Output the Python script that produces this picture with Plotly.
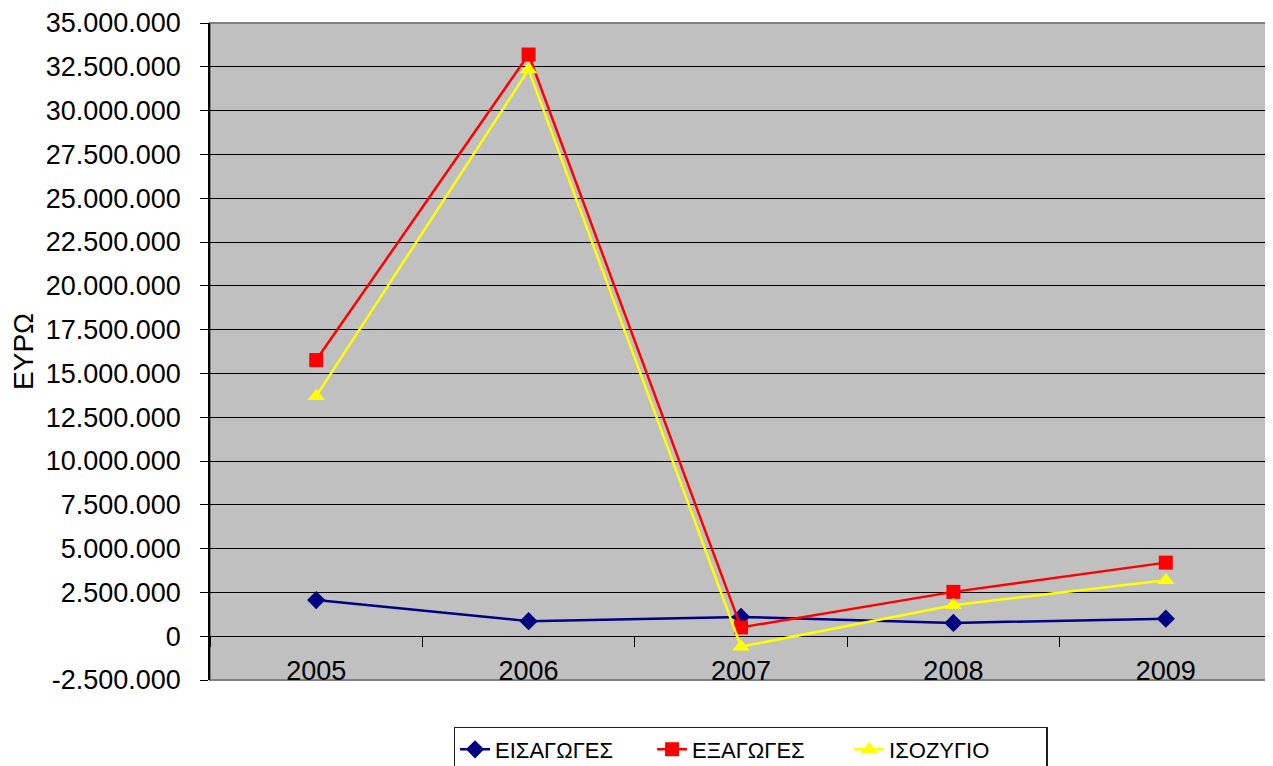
import plotly.graph_objects as go

years = ["2005", "2006", "2007", "2008", "2009"]
imports_eur = [2060000, 860000, 1100000, 760000, 1000000]
exports_eur = [15760000, 33200000, 500000, 2530000, 4200000]
balance_eur = [13700000, 32340000, -600000, 1770000, 3200000]

series_names = ["ΕΙΣΑΓΩΓΕΣ", "ΕΞΑΓΩΓΕΣ", "ΙΣΟΖΥΓΙΟ"]
y_tick_vals = [-2500000, 0, 2500000, 5000000, 7500000, 10000000, 12500000, 15000000,
               17500000, 20000000, 22500000, 25000000, 27500000, 30000000, 32500000, 35000000]
y_tick_text = ["-2.500.000", "0", "2.500.000", "5.000.000", "7.500.000", "10.000.000",
               "12.500.000", "15.000.000", "17.500.000", "20.000.000", "22.500.000",
               "25.000.000", "27.500.000", "30.000.000", "32.500.000", "35.000.000"]
y_title = "ΕΥΡΩ"

FONT = "Liberation Sans, Arial, sans-serif"

fig = go.Figure()
fig.add_trace(go.Scatter(x=years, y=imports_eur, name=series_names[0], mode="lines+markers",
                         line=dict(color="#000080", width=2.5),
                         marker=dict(symbol="diamond", size=14, color="#000080")))
fig.add_trace(go.Scatter(x=years, y=exports_eur, name=series_names[1], mode="lines+markers",
                         line=dict(color="#FF0000", width=2.5),
                         marker=dict(symbol="square", size=14, color="#FF0000")))
fig.add_trace(go.Scatter(x=years, y=balance_eur, name=series_names[2], mode="lines+markers",
                         line=dict(color="#FFFF00", width=2.5),
                         marker=dict(symbol="triangle-up", size=15, color="#FFFF00")))

ymin, ymax = -2500000, 35000000
# page body has an 8px margin, so figure coords = screen coords - 8
fig.update_layout(
    width=1273, height=766,
    margin=dict(l=202, r=9, t=15, b=94, autoexpand=False),
    paper_bgcolor="white",
    plot_bgcolor="#C0C0C0",
    font=dict(family=FONT, color="black"),
    showlegend=True,
    legend=dict(orientation="h", x=0.509, xanchor="center", y=-0.0715, yanchor="top",
                bgcolor="white", bordercolor="#202020", borderwidth=1.5,
                font=dict(size=22, family=FONT), entrywidth=152,
                traceorder="normal"),
    xaxis=dict(type="category", range=[-0.5, 4.5], anchor="free",
               position=(0 - ymin) / (ymax - ymin),
               showgrid=False, zeroline=False, showline=False,
               ticks="outside", ticklen=10, tickwidth=1.3, tickcolor="black",
               tickson="boundaries", ticklabelstandoff=16,
               tickfont=dict(size=27, family=FONT)),
    yaxis=dict(range=[ymin, ymax], tickvals=y_tick_vals, ticktext=y_tick_text,
               showgrid=True, gridcolor="black", gridwidth=1.3,
               zeroline=False, showline=True, linecolor="black", linewidth=1.5,
               ticks="outside", ticklen=8, tickwidth=1.3, tickcolor="black",
               ticklabelstandoff=14,
               tickfont=dict(size=27, family=FONT),
               title=dict(text=y_title, font=dict(size=28, family=FONT), standoff=14)),
)
fig.add_shape(type="rect", xref="paper", yref="paper", x0=0, x1=1, y0=0, y1=1,
              line=dict(color="#808080", width=2), layer="below")
fig.write_html("out.html")
